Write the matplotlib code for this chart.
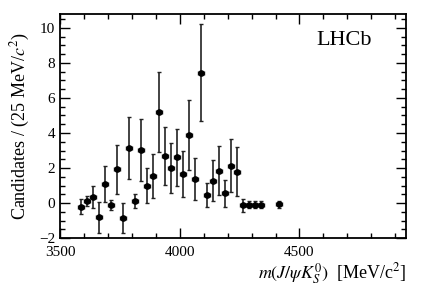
import numpy as np
import matplotlib.pyplot as plt
from matplotlib.ticker import MultipleLocator

plt.rcParams['font.family'] = ['Liberation Serif', 'DejaVu Serif']
plt.rcParams['mathtext.fontset'] = 'stix'

# bin centres (25 MeV bins) and yields
mass = [3587.5, 3612.5, 3637.5, 3662.5, 3687.5, 3712.5, 3737.5, 3762.5,
        3787.5, 3812.5, 3837.5, 3862.5, 3887.5, 3912.5, 3937.5, 3962.5,
        3987.5, 4012.5, 4037.5, 4062.5, 4087.5, 4112.5, 4137.5, 4162.5,
        4187.5, 4212.5, 4237.5, 4262.5, 4287.5, 4312.5, 4337.5, 4412.5]
counts = [-0.2, 0.11, 0.33, -0.82, 1.09, -0.11, 1.94, -0.84,
          3.16, 0.11, 3.03, 0.99, 1.54, 5.22, 2.7, 1.98,
          2.61, 1.66, 3.9, 1.37, 7.45, 0.46, 1.28, 1.85,
          0.55, 2.13, 1.79, -0.12, -0.1, -0.1, -0.1, -0.06]
errors = [0.42, 0.3, 0.62, 0.87, 1.05, 0.3, 1.4, 0.87,
          1.78, 0.38, 1.76, 1.0, 1.25, 2.28, 1.67, 1.43,
          1.62, 1.29, 2.0, 1.19, 2.75, 0.7, 1.17, 1.38,
          0.76, 1.5, 1.39, 0.38, 0.2, 0.2, 0.2, 0.2]
bin_half = 12.5

fig = plt.figure(figsize=(4.27, 2.9), dpi=100)
ax = fig.add_axes([0.1405, 0.179, 0.8105, 0.773])

ax.errorbar(mass, counts, yerr=errors, xerr=bin_half, fmt='o', color='black',
            ecolor='#222222', markersize=3.8, elinewidth=1.2, capsize=1.5,
            capthick=1.0)

ax.set_xlim(3500, 4945)
ax.set_ylim(-2, 10.8)
ax.xaxis.set_major_locator(MultipleLocator(500))
ax.xaxis.set_minor_locator(MultipleLocator(100))
ax.yaxis.set_major_locator(MultipleLocator(2))
ax.yaxis.set_minor_locator(MultipleLocator(0.5))
ax.tick_params(which='both', direction='in', top=True, right=True, labelsize=11)
ax.tick_params(which='major', length=7, width=1.0)
ax.tick_params(which='minor', length=3.5, width=1.0)
ax.tick_params(axis='x', which='major', pad=6)
for s in ax.spines.values():
    s.set_linewidth(1.3)

ax.set_ylabel(r'Candidates / (25 MeV/$c^2$)', fontsize=13, labelpad=5)
ax.set_xlabel(r'$m(J/\psi K^0_S)$  [MeV/c$^2$]', fontsize=13, loc='right', labelpad=1)
ax.text(0.90, 0.86, 'LHCb', transform=ax.transAxes, fontsize=16, ha='right')

fig.savefig('out.png', dpi=100)
